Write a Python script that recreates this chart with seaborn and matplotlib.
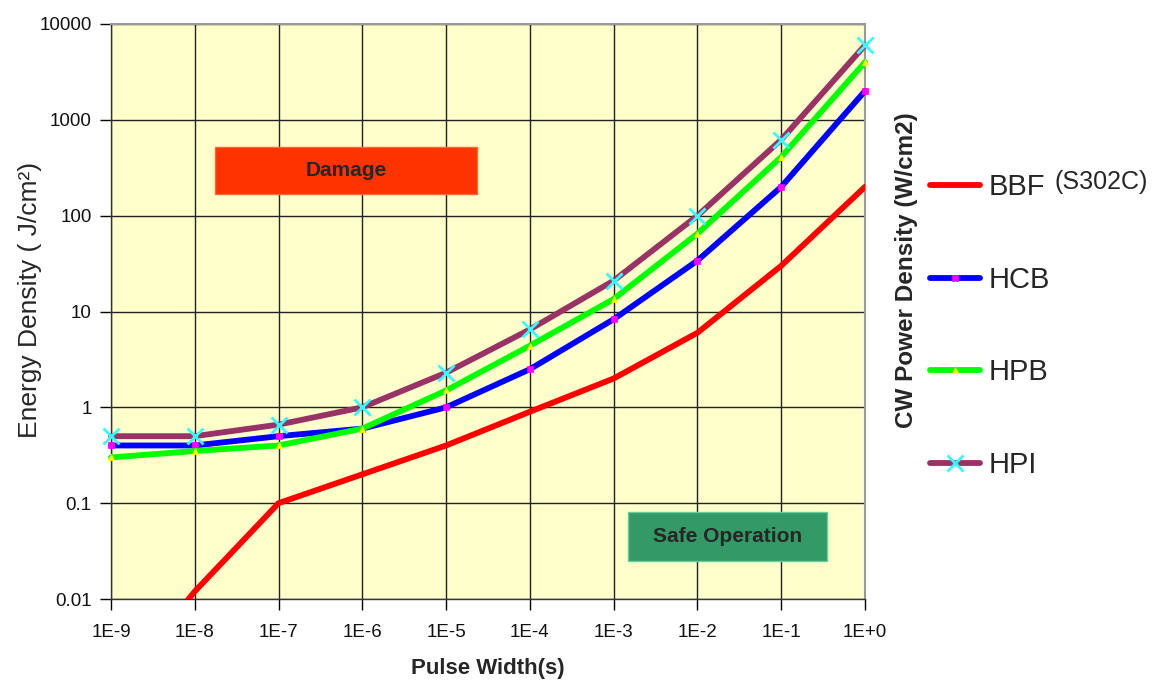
import matplotlib
matplotlib.use('Agg')
import matplotlib.pyplot as plt
from matplotlib.patches import Rectangle
import pandas as pd
import seaborn as sns

# Data (log-log, one point per decade)
pulse = [1e-9, 1e-8, 1e-7, 1e-6, 1e-5, 1e-4, 1e-3, 1e-2, 1e-1, 1e0]
bbf = [0.001, 0.012, 0.1, 0.2, 0.4, 0.9, 2.0, 6.0, 30, 200]
hcb = [0.4, 0.4, 0.5, 0.6, 1.0, 2.5, 8.3, 34, 200, 2000]
hpb = [0.3, 0.35, 0.4, 0.6, 1.5, 4.4, 13.5, 65, 410, 4000]
hpi = [0.5, 0.5, 0.66, 1.0, 2.3, 6.5, 21, 100, 620, 6000]

x_ticks = [1e-9, 1e-8, 1e-7, 1e-6, 1e-5, 1e-4, 1e-3, 1e-2, 1e-1, 1e0]
x_labels = ['1E-9', '1E-8', '1E-7', '1E-6', '1E-5', '1E-4', '1E-3', '1E-2', '1E-1', '1E+0']
y_ticks = [0.01, 0.1, 1, 10, 100, 1000, 10000]
y_labels = ['0.01', '0.1', '1', '10', '100', '1000', '10000']

df = pd.DataFrame({'pulse': pulse, 'BBF': bbf, 'HCB': hcb, 'HPB': hpb, 'HPI': hpi})

sns.set_style('ticks')
plt.rcParams['font.family'] = ['Liberation Sans', 'DejaVu Sans']

fig = plt.figure(figsize=(11.56, 6.81), dpi=100)
ax = fig.add_axes([111 / 1156, 82 / 681, 754 / 1156, 575 / 681])
ax.set_facecolor('#FFFFCC')

# series: (column, line colour, marker, marker colour, marker size)
styles = [
    ('BBF', '#FF0000', None, None, 0),
    ('HCB', '#0000FF', 's', '#FF00FF', 4),
    ('HPB', '#00FF00', '^', '#FFFF00', 5),
    ('HPI', '#993366', 'x', '#33FFFF', 11),
]
for name, color, marker, mcolor, msize in styles:
    kw = dict(color=color, lw=4.2, label=name, ax=ax, zorder=3)
    if marker:
        kw.update(marker=marker, markersize=msize, markerfacecolor=mcolor,
                  markeredgecolor=mcolor, markeredgewidth=2 if marker == 'x' else 0.5,
                  clip_on=False)
    sns.lineplot(data=df, x='pulse', y=name, **kw)

ax.set_xscale('log')
ax.set_yscale('log')
ax.set_xlim(1e-9, 1)
ax.set_ylim(0.01, 10000)
ax.set_xticks(x_ticks, x_labels)
ax.set_yticks(y_ticks, y_labels)
ax.minorticks_off()
ax.tick_params(axis='both', length=8, width=1, color='black', labelsize=13.5, labelcolor='#111111')
ax.tick_params(axis='x', pad=10)
ax.tick_params(axis='y', pad=6)
ax.grid(True, color='#222222', lw=1)
ax.set_axisbelow(True)

for side in ['left', 'bottom']:
    ax.spines[side].set_color('#333333')
    ax.spines[side].set_linewidth(1)
for side in ['top', 'right']:
    ax.spines[side].set_visible(True)
    ax.spines[side].set_color('#999999')
    ax.spines[side].set_linewidth(1.5)

ax.set_xlabel('Pulse Width(s)', fontsize=16, fontweight='bold', labelpad=12)
ax.set_ylabel('')
fig.text(30 / 1156, 1 - 300 / 681, 'Energy Density ( J/cm²)', rotation=90,
         fontsize=19, ha='center', va='center')
fig.text(907 / 1156, 1 - 270 / 681, 'CW Power Density (W/cm2)', rotation=90,
         fontsize=17.5, fontweight='bold', ha='center', va='center')

# region boxes
ax.add_patch(Rectangle((0.138, 0.704), 0.347, 0.082, transform=ax.transAxes,
                       facecolor='#FF3300', edgecolor='#FF6633', lw=1, zorder=2))
ax.text(0.3115, 0.745, 'Damage', transform=ax.transAxes, ha='center', va='center',
        fontsize=15, fontweight='bold', zorder=4)
ax.add_patch(Rectangle((0.686, 0.066), 0.264, 0.085, transform=ax.transAxes,
                       facecolor='#339966', edgecolor='#66CC99', lw=1, zorder=2))
ax.text(0.818, 0.1085, 'Safe Operation', transform=ax.transAxes, ha='center', va='center',
        fontsize=15, fontweight='bold', zorder=4)

leg = ax.legend(loc='upper left', bbox_to_anchor=(930 / 1156, 1 - 173 / 681),
                bbox_transform=fig.transFigure, frameon=False, fontsize=21,
                handlelength=1.7, handletextpad=0.3, labelspacing=2.22,
                borderpad=0, borderaxespad=0)
fig.text(1055 / 1156, 1 - 182 / 681, '(S302C)', fontsize=18, va='center', ha='left')

fig.savefig('out.png', dpi=100, facecolor='white')
